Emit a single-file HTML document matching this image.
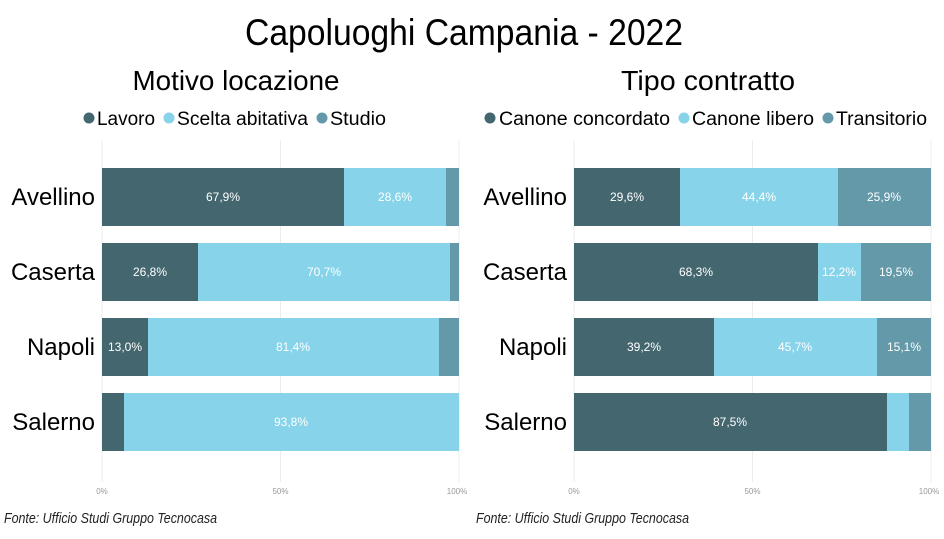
<!DOCTYPE html>
<html><head><meta charset="utf-8"><style>
html,body{margin:0;padding:0;background:#fff;}
svg{display:block;font-family:"Liberation Sans","DejaVu Sans",sans-serif;}
</style></head><body>
<svg width="944" height="539" viewBox="0 0 944 539" xmlns="http://www.w3.org/2000/svg">
<text x="464" y="45" font-size="37" text-anchor="middle" textLength="438" lengthAdjust="spacingAndGlyphs" fill="#000">Capoluoghi Campania - 2022</text>
<text x="236" y="90" font-size="28" text-anchor="middle" textLength="207" lengthAdjust="spacingAndGlyphs">Motivo locazione</text>
<text x="708" y="90" font-size="28" text-anchor="middle" textLength="174" lengthAdjust="spacingAndGlyphs">Tipo contratto</text>
<g font-size="19">
<circle cx="89" cy="118" r="5.5" fill="#44666f"/><text x="97" y="125" textLength="58" lengthAdjust="spacingAndGlyphs">Lavoro</text>
<circle cx="169" cy="118" r="5.5" fill="#87d3ea"/><text x="177" y="125" textLength="131" lengthAdjust="spacingAndGlyphs">Scelta abitativa</text>
<circle cx="322" cy="118" r="5.5" fill="#6399a8"/><text x="330" y="125" textLength="56" lengthAdjust="spacingAndGlyphs">Studio</text>
<circle cx="490" cy="118" r="5.5" fill="#44666f"/><text x="499" y="125" textLength="171" lengthAdjust="spacingAndGlyphs">Canone concordato</text>
<circle cx="684" cy="118" r="5.5" fill="#87d3ea"/><text x="692" y="125" textLength="122" lengthAdjust="spacingAndGlyphs">Canone libero</text>
<circle cx="828" cy="118" r="5.5" fill="#6399a8"/><text x="836" y="125" textLength="91" lengthAdjust="spacingAndGlyphs">Transitorio</text>
</g>
<g stroke="#ececec" stroke-width="1">
<line x1="102" y1="140" x2="102" y2="482"/><line x1="280.5" y1="140" x2="280.5" y2="482"/><line x1="459" y1="140" x2="459" y2="482"/>
<line x1="574" y1="140" x2="574" y2="482"/><line x1="752.5" y1="140" x2="752.5" y2="482"/><line x1="931" y1="140" x2="931" y2="482"/>
</g>
<g font-size="8" fill="#999" text-anchor="middle">
<text x="102" y="494">0%</text><text x="280.5" y="494">50%</text><text x="457" y="494">100%</text>
<text x="574" y="494">0%</text><text x="752.5" y="494">50%</text><text x="929" y="494">100%</text>
</g>
<g font-size="24" text-anchor="end">
<text x="95" y="205">Avellino</text><text x="95" y="280">Caserta</text><text x="95" y="355">Napoli</text><text x="95" y="430">Salerno</text>
<text x="567" y="205">Avellino</text><text x="567" y="280">Caserta</text><text x="567" y="355">Napoli</text><text x="567" y="430">Salerno</text>
</g>
<g>
<rect x="102" y="168" width="242" height="58" fill="#44666f"/><rect x="344" y="168" width="102" height="58" fill="#87d3ea"/><rect x="446" y="168" width="13" height="58" fill="#6399a8"/>
<rect x="102" y="243" width="96" height="58" fill="#44666f"/><rect x="198" y="243" width="252" height="58" fill="#87d3ea"/><rect x="450" y="243" width="9" height="58" fill="#6399a8"/>
<rect x="102" y="318" width="46" height="58" fill="#44666f"/><rect x="148" y="318" width="291" height="58" fill="#87d3ea"/><rect x="439" y="318" width="20" height="58" fill="#6399a8"/>
<rect x="102" y="393" width="22" height="58" fill="#44666f"/><rect x="124" y="393" width="335" height="58" fill="#87d3ea"/>
</g>
<g>
<rect x="574" y="168" width="106" height="58" fill="#44666f"/><rect x="680" y="168" width="158" height="58" fill="#87d3ea"/><rect x="838" y="168" width="93" height="58" fill="#6399a8"/>
<rect x="574" y="243" width="244" height="58" fill="#44666f"/><rect x="818" y="243" width="43" height="58" fill="#87d3ea"/><rect x="861" y="243" width="70" height="58" fill="#6399a8"/>
<rect x="574" y="318" width="140" height="58" fill="#44666f"/><rect x="714" y="318" width="163" height="58" fill="#87d3ea"/><rect x="877" y="318" width="54" height="58" fill="#6399a8"/>
<rect x="574" y="393" width="313" height="58" fill="#44666f"/><rect x="887" y="393" width="22" height="58" fill="#87d3ea"/><rect x="909" y="393" width="22" height="58" fill="#6399a8"/>
</g>
<g font-size="12" fill="#fff" text-anchor="middle">
<text x="223" y="201">67,9%</text><text x="395" y="201">28,6%</text>
<text x="150" y="276">26,8%</text><text x="324" y="276">70,7%</text>
<text x="125" y="351">13,0%</text><text x="293" y="351">81,4%</text>
<text x="291" y="426">93,8%</text>
<text x="627" y="201">29,6%</text><text x="759" y="201">44,4%</text><text x="884" y="201">25,9%</text>
<text x="696" y="276">68,3%</text><text x="839" y="276">12,2%</text><text x="896" y="276">19,5%</text>
<text x="644" y="351">39,2%</text><text x="795" y="351">45,7%</text><text x="904" y="351">15,1%</text>
<text x="730" y="426">87,5%</text>
</g>
<g font-size="15" font-style="italic" fill="#222">
<text x="4" y="523" textLength="213" lengthAdjust="spacingAndGlyphs">Fonte: Ufficio Studi Gruppo Tecnocasa</text>
<text x="476" y="523" textLength="213" lengthAdjust="spacingAndGlyphs">Fonte: Ufficio Studi Gruppo Tecnocasa</text>
</g>
</svg>
</body></html>
